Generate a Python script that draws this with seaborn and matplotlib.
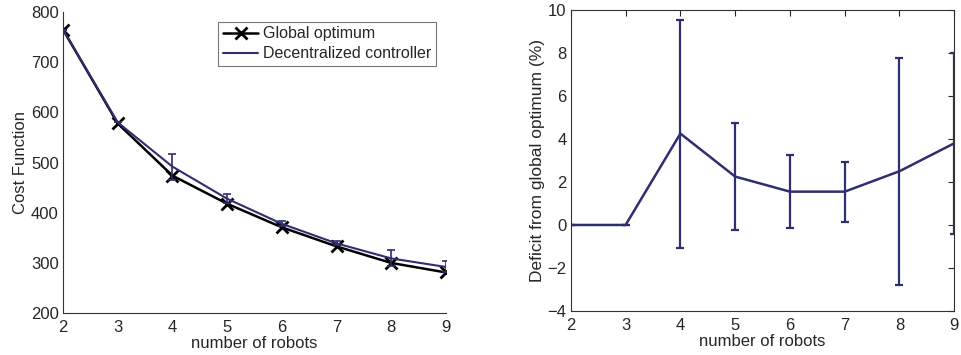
import numpy as np
import pandas as pd
import matplotlib
matplotlib.use("Agg")
import matplotlib.pyplot as plt
import seaborn as sns

robots = [2, 3, 4, 5, 6, 7, 8, 9]
global_opt = [765, 578, 474, 418, 371, 333, 300, 281]
decentral = [765, 580, 492, 428, 378, 339, 309, 292]
decentral_err = [0, 0, 26, 9, 5, 4, 16, 11]
deficit = [0, 0, 4.25, 2.25, 1.55, 1.55, 2.5, 3.8]
deficit_err = [0, 0, 5.3, 2.5, 1.7, 1.4, 5.27, 4.2]

navy = "#2e2e70"

sns.set_style("white")
plt.rcParams['font.family'] = ['Liberation Sans', 'DejaVu Sans']

fig = plt.figure(figsize=(9.61, 3.55), dpi=100)
ax1 = fig.add_axes([0.0656, 0.118, 0.3984, 0.848])
ax2 = fig.add_axes([0.594, 0.124, 0.399, 0.848])

df1 = pd.DataFrame({"robots": robots, "Global optimum": global_opt,
                    "Decentralized controller": decentral})

sns.lineplot(data=df1, x="robots", y="Global optimum", ax=ax1, color="black",
             lw=1.8, marker="x", markersize=9, markeredgewidth=2,
             markeredgecolor="black", label="Global optimum")
sns.lineplot(data=df1, x="robots", y="Decentralized controller", ax=ax1, color=navy,
             lw=1.5, label="Decentralized controller")
ax1.errorbar(robots, decentral, yerr=decentral_err, fmt="none", ecolor=navy,
             elinewidth=1.2, capsize=3, capthick=1.2)

ax1.set_xlim(2, 9)
ax1.set_ylim(200, 800)
ax1.set_xticks(robots)
ax1.set_yticks([200, 300, 400, 500, 600, 700, 800])
ax1.set_xlabel("number of robots", fontsize=12, labelpad=1)
ax1.set_ylabel("Cost Function", fontsize=12, labelpad=2)
ax1.tick_params(direction="in", labelsize=12, length=4, pad=5)
ax1.tick_params(axis="y", pad=3)
for s in ["top", "right"]:
    ax1.spines[s].set_visible(False)
for s in ["left", "bottom"]:
    ax1.spines[s].set_color("#333333")
    ax1.spines[s].set_linewidth(0.8)
leg = ax1.legend(loc="upper right", bbox_to_anchor=(0.995, 0.995), fontsize=11.5,
                 frameon=True, fancybox=False, edgecolor="#555555",
                 borderpad=0.3, handlelength=2.2, handletextpad=0.3, labelspacing=0.3)
leg.get_frame().set_linewidth(0.8)

df2 = pd.DataFrame({"robots": robots, "deficit": deficit})
sns.lineplot(data=df2, x="robots", y="deficit", ax=ax2, color=navy, lw=1.8)
ax2.errorbar(robots, deficit, yerr=deficit_err, fmt="none", ecolor=navy,
             elinewidth=1.6, capsize=3, capthick=1.6)
ax2.set_xlim(2, 9)
ax2.set_ylim(-4, 10)
ax2.set_xticks(robots)
ax2.set_yticks([-4, -2, 0, 2, 4, 6, 8, 10])
ax2.set_xlabel("number of robots", fontsize=12, labelpad=1)
ax2.set_ylabel("Deficit from global optimum (%)", fontsize=12.5, labelpad=2)
ax2.tick_params(direction="in", labelsize=12, length=4, pad=5,
                top=True, right=True)
ax2.tick_params(axis="y", pad=3)
for s in ax2.spines.values():
    s.set_color("#333333")
    s.set_linewidth(0.8)

fig.savefig("out.png", dpi=100)
